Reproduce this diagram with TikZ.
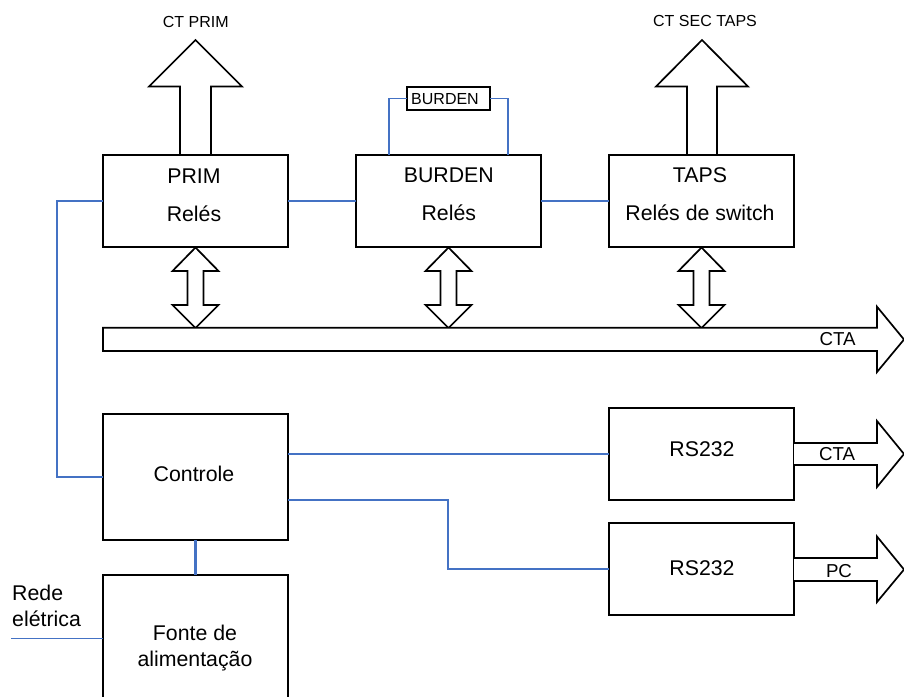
\documentclass[tikz,border=0pt]{standalone}
\usepackage{fontspec}
\setmainfont{Liberation Sans}
\definecolor{lnblue}{HTML}{4472C4}
\begin{document}
\begin{tikzpicture}[x=1pt,y=-1pt,
  box/.style={draw=black, line width=1.7pt, fill=white, inner sep=0pt, outer sep=0pt, rectangle},
  big/.style={font=\fontsize{21.3}{25}\selectfont, inner sep=0pt, anchor=base},
  mid/.style={font=\fontsize{18.7}{22}\selectfont, inner sep=0pt, anchor=base},
  small/.style={font=\fontsize{16}{19}\selectfont, inner sep=0pt, anchor=base},
  wire/.style={draw=lnblue, line width=1.8pt},
  fat/.style={draw=black, line width=1.7pt, fill=white, line join=miter}]
\useasboundingbox (0,0) rectangle (904,696);
\clip (0,0) rectangle (904,696);
\fill[white] (0,0) rectangle (904,696);

% big output arrows (drawn first so box borders stay on top)
\draw[fat] (180,156) -- (180,86.5) -- (149,86.5) -- (195.5,40) -- (242,86.5) -- (211,86.5) -- (211,156);
\draw[fat] (687,156) -- (687,86.5) -- (656,86.5) -- (702,40) -- (748,86.5) -- (717,86.5) -- (717,156);
\node[small] (ct1) at (195.8,27.3) {CT PRIM};
\node[small] (ct2) at (705,26.7) {CT SEC TAPS};

% double arrows
\foreach \cx in {195.5,448.5,701.5}{
  \draw[fat] (\cx,247.5) -- (\cx+23,271) -- (\cx+8,271) -- (\cx+8,305) -- (\cx+23,305) -- (\cx,328)
    -- (\cx-23,305) -- (\cx-8,305) -- (\cx-8,271) -- (\cx-23,271) -- cycle;
}

% boxes
\node[box, minimum width=185pt, minimum height=92pt] (prim) at (195.5,201) {};
\node[box, minimum width=185pt, minimum height=92pt] (burden) at (448.5,201) {};
\node[box, minimum width=185pt, minimum height=92pt] (taps) at (701.5,201) {};
\node[box, minimum width=185pt, minimum height=126pt] (ctrl) at (195.5,477) {};
\node[box, minimum width=185pt, minimum height=145pt] (fonte) at (195.5,647.5) {};
\node[box, minimum width=185pt, minimum height=92pt] (rsa) at (701.5,454) {};
\node[box, minimum width=185pt, minimum height=92pt] (rsb) at (701.5,569) {};
\node[box, minimum width=83pt, minimum height=23pt] (bsm) at (448.5,98.5) {};

% box texts
\node[big] (t1) at (194,183) {PRIM};
\node[big] (t2) at (194,221) {Relés};
\node[big] (t3) at (448.8,182) {BURDEN};
\node[big] (t4) at (448.8,220) {Relés};
\node[big] (t5) at (700,182.5) {TAPS};
\node[big] (t6) at (700,220) {Relés de switch};
\node[big] (t7) at (194,481) {Controle};
\node[big] (t8) at (195,640.5) {Fonte de};
\node[big] (t9) at (195,666.5) {alimentação};
\node[big] (t10) at (702,456) {RS232};
\node[big] (t11) at (702,575) {RS232};
\node[big, anchor=base west] (t12) at (12,600) {Rede};
\node[big, anchor=base west] (t13) at (12,626.5) {elétrica};
\node[small] (t14) at (445,104) {BURDEN};

% bus arrow
\draw[fat] (103,327.7) -- (877,327.7) -- (877,306.7) -- (904,339.5) -- (877,372) -- (877,351) -- (103,351) -- cycle;
\node[mid] (bus) at (837.5,345.7) {CTA};

% RS232 output arrows
\draw[fat] (rsa.east |- 0,443) -- (877,443) -- (877,421) -- (904,454) -- (877,487) -- (877,465) -- (rsa.east |- 0,465);
\node[mid] (o1) at (837,460) {CTA};
\draw[fat] (rsb.east |- 0,558) -- (877,558) -- (877,536.5) -- (904,569.5) -- (877,602) -- (877,581) -- (rsb.east |- 0,581);
\node[mid] (o2) at (839,577) {PC};

% wires
\draw[wire] (prim.east) -- (burden.west);
\draw[wire] (burden.east) -- (taps.west);
\draw[wire] (prim.west) -- ++(-46,0) |- (ctrl.west);
\draw[wire] (bsm.west) -| ([xshift=-59.5pt]burden.north);
\draw[wire] (bsm.east) -| ([xshift=59.5pt]burden.north);
\draw[wire] (ctrl.east |- rsa.west) -- (rsa.west);
\draw[wire] ([yshift=-23pt]ctrl.east) -- (448,500) |- (rsb.west);
\draw[wire, line width=2.8pt] (ctrl.south) -- (fonte.north);
\coordinate (rede) at (11,638.5);
\draw[wire] (rede) -- (rede -| fonte.west);
\end{tikzpicture}
\end{document}
